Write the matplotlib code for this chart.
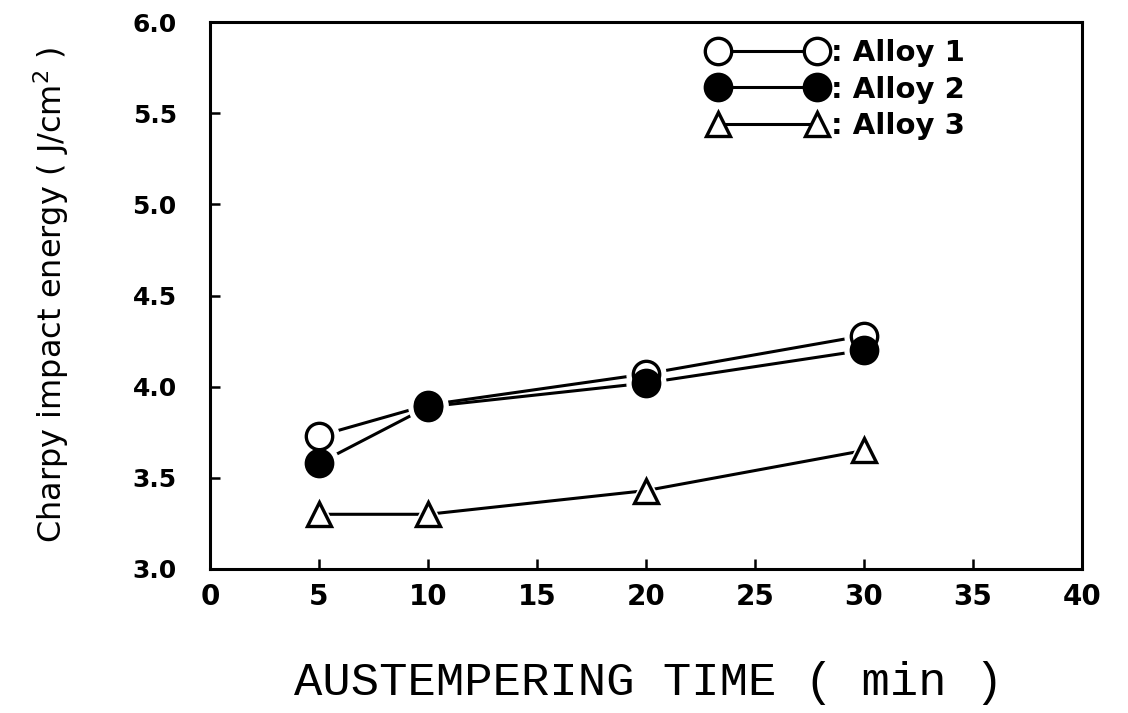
import matplotlib
matplotlib.use('Agg')
from matplotlib import pyplot as plt
from matplotlib.lines import Line2D

# austempering time (min)
times = [5, 10, 20, 30]
# Charpy impact energy (J/cm2)
alloy1 = [3.73, 3.90, 4.07, 4.28]
alloy2 = [3.58, 3.89, 4.02, 4.20]
alloy3 = [3.30, 3.30, 3.43, 3.65]
labels = [': Alloy 1', ': Alloy 2', ': Alloy 3']

xticks = [0, 5, 10, 15, 20, 25, 30, 35, 40]
yticks = [3.0, 3.5, 4.0, 4.5, 5.0, 5.5, 6.0]

fig = plt.figure(figsize=(11.28, 7.13), dpi=100)
ax = fig.add_axes([0.1862, 0.202, 0.773, 0.767])

styles = [
    (alloy1, 'o', 'white', 19),
    (alloy2, 'o', 'black', 19),
    (alloy3, '^', 'white', 17),
]
handles = []
for (vals, m, fc, ms), lab in zip(styles, labels):
    ax.plot(times, vals, color='black', lw=2.2, zorder=2)
    # white halo so the lines stop short of the markers
    ax.plot(times, vals, ls='none', marker=m, ms=ms + 9, mfc='white', mec='white', zorder=3)
    ax.plot(times, vals, ls='none', marker=m, ms=ms, mfc=fc, mec='black', mew=2.4, zorder=4)
    handles.append(Line2D([], [], color='black', lw=2.2, marker=m, ms=ms, mfc=fc,
                          mec='black', mew=2.4, label=lab))

ax.set_xlim(0, 40)
ax.set_ylim(3.0, 6.0)
ax.set_xticks(xticks)
ax.set_yticks(yticks)
ax.set_xticklabels([str(t) for t in xticks], fontfamily='DejaVu Sans', fontweight='bold', fontsize=20)
ax.set_yticklabels([f'{t:.1f}' for t in yticks], fontfamily='DejaVu Sans', fontweight='bold', fontsize=18)
ax.tick_params(direction='in', length=7, width=1.8, top=False, right=False, colors='black')
ax.tick_params(axis='x', pad=10)
ax.tick_params(axis='y', pad=24)
for s in ax.spines.values():
    s.set_linewidth(2.2)

leg = ax.legend(handles=handles, loc='upper right', bbox_to_anchor=(0.883, 0.995),
                frameon=False, numpoints=2, handlelength=4.0, handletextpad=0.2,
                labelspacing=0.28, borderpad=0.0,
                prop={'family': 'DejaVu Sans', 'weight': 'bold', 'size': 21})

fig.text(0.575, 0.042, 'AUSTEMPERING TIME ( min )', ha='center', va='center',
         fontfamily='Liberation Mono', fontsize=34)
fig.text(0.045, 0.586, 'Charpy impact energy ( J/cm$^2$ )', ha='center', va='center',
         rotation=90, fontfamily='DejaVu Sans', fontsize=23)

fig.savefig('out.png', dpi=100)
